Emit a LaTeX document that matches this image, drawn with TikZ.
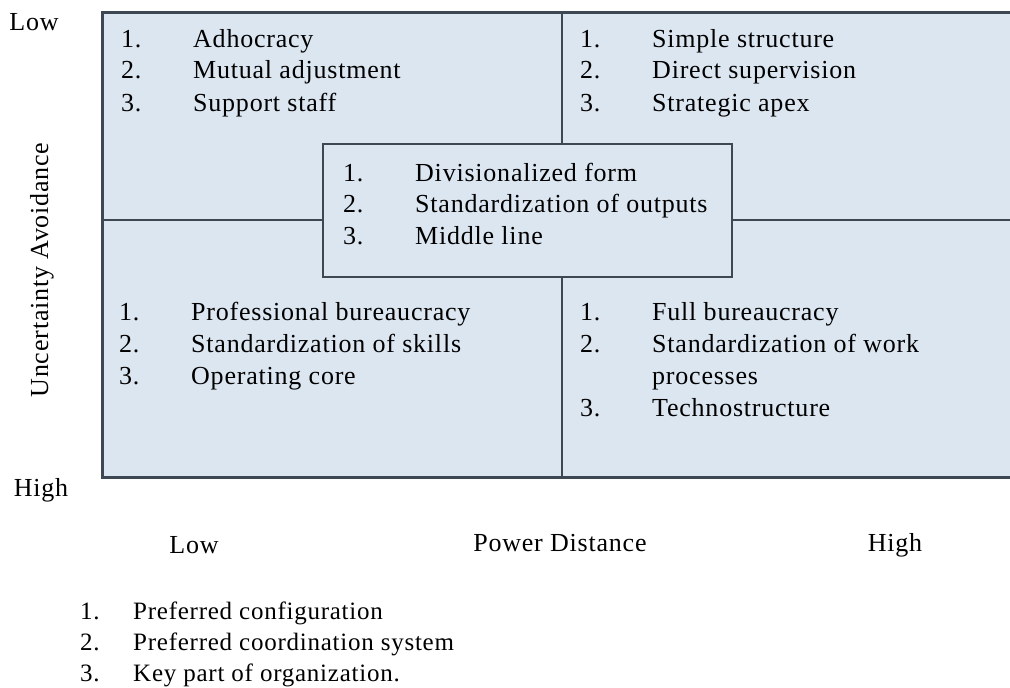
\documentclass[tikz,border=0pt]{standalone}
\usepackage{fontspec}
\setmainfont{Liberation Serif}[LetterSpace=3]
\definecolor{qfill}{HTML}{DCE6F1}
\definecolor{qline}{HTML}{3E4852}
\newcommand{\qlist}[2]{{\fontsize{26}{#1}\selectfont\begin{tabular}[t]{@{}p{72pt}@{}l@{}}#2\end{tabular}}}
\newcommand{\leglist}[1]{{\fontsize{25}{31}\selectfont\begin{tabular}[t]{@{}p{53pt}@{}l@{}}#1\end{tabular}}}
\begin{document}
\begin{tikzpicture}[x=1pt,y=-1pt,
  lbl/.style={inner sep=0pt,font=\fontsize{26}{30}\selectfont},
  qtext/.style={inner sep=0pt,anchor=base west},
  frame/.style={draw=qline,line width=3pt},
  divider/.style={draw=qline,line width=2.4pt},
  cbox/.style={draw=qline,line width=2.6pt,fill=qfill,minimum width=409pt,minimum height=133pt,inner sep=0pt}]
\useasboundingbox (0,0) rectangle (1010,688);
% quadrant area
\fill[qfill] (102,12) rectangle (1010,477);
\draw[divider] (562,12) -- (562,477);
\draw[divider] (102,220) -- (1010,220);
\draw[frame] (1010,12) -- (102,12) -- (102,477) -- (1010,477);
% centre box
\node[cbox] (mid) at (527.5,210.5) {};
% quadrant texts
\node[qtext] (tl) at (121,47) {\qlist{32}{1. & Adhocracy\\ 2. & Mutual adjustment\\ 3. & Support staff}};
\node[qtext] (tr) at (580,47) {\qlist{32}{1. & Simple structure\\ 2. & Direct supervision\\ 3. & Strategic apex}};
\node[qtext] (mc) at (343,181) {\qlist{31.5}{1. & Divisionalized form\\ 2. & Standardization of outputs\\ 3. & Middle line}};
\node[qtext] (bl) at (119,320) {\qlist{32}{1. & Professional bureaucracy\\ 2. & Standardization of skills\\ 3. & Operating core}};
\node[qtext] (br) at (580,320) {\qlist{32}{1. & Full bureaucracy\\ 2. & Standardization of work\\ & processes\\ 3. & Technostructure}};
% axis labels
\node[lbl] (uaLow) at (34,22) {Low};
\node[lbl] (uaHigh) at (41,490) {High};
\node[lbl,rotate=90] (ua) at (42,270) {Uncertainty Avoidance};
\node[lbl] (pdLow) at (194,545) {Low};
\node[lbl] (pd) at (560,543) {Power Distance};
\node[lbl] (pdHigh) at (895,545) {High};
% legend
\node[qtext] (legend) at (80,619) {\leglist{1. & Preferred configuration\\ 2. & Preferred coordination system\\ 3. & Key part of organization.}};
\end{tikzpicture}
\end{document}
